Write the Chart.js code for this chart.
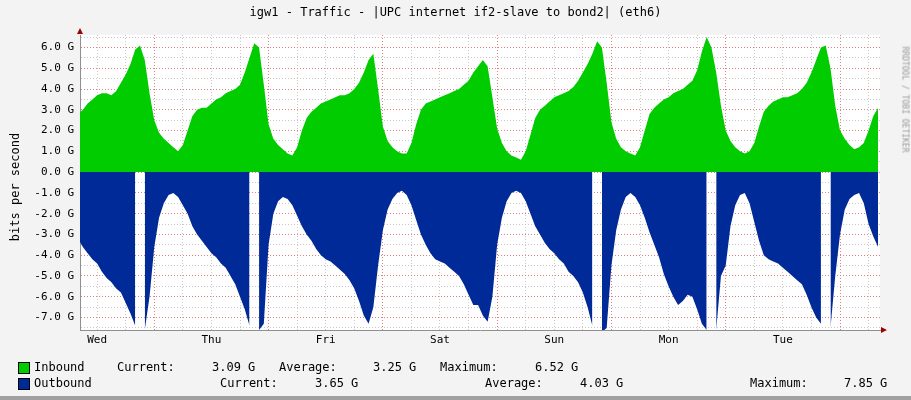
<!DOCTYPE html>
<html>
<head>
<meta charset="utf-8">
<script src="https://cdn.jsdelivr.net/npm/chart.js@4"></script>
<style>
  body { margin:0; background:#f3f3f3; font-family:"DejaVu Sans Mono", monospace; }
  #wrap { position:relative; width:911px; height:400px; overflow:hidden; }
  canvas { position:absolute; left:0; top:0; }
  .t { position:absolute; font-size:12px; color:#000; white-space:pre; }
  .box { position:absolute; width:10px; height:10px; border:1px solid #000; }
</style>
</head>
<body>
<div id="wrap">
  <canvas id="c" width="911" height="400"></canvas>
  <div class="t" style="left:0;width:911px;text-align:center;top:5px;">igw1 - Traffic - |UPC internet if2-slave to bond2| (eth6)</div>
  <div class="t" style="left:-40px;top:180px;width:110px;text-align:center;transform:rotate(-90deg);">bits per second</div>
  <div class="t" style="left:835px;top:95px;width:140px;text-align:center;font-size:8px;color:#999;transform:rotate(90deg);">RRDTOOL / TOBI OETIKER</div>

  <div class="box" style="left:18px;top:362px;background:#00cc00;"></div>
  <div class="t" style="left:34px;top:360px;">Inbound</div>
  <div class="t" style="left:117px;top:360px;">Current:</div>
  <div class="t" style="left:212px;top:360px;">3.09 G</div>
  <div class="t" style="left:279px;top:360px;">Average:</div>
  <div class="t" style="left:373px;top:360px;">3.25 G</div>
  <div class="t" style="left:440px;top:360px;">Maximum:</div>
  <div class="t" style="left:535px;top:360px;">6.52 G</div>

  <div class="box" style="left:18px;top:378px;background:#002a97;"></div>
  <div class="t" style="left:34px;top:376px;">Outbound</div>
  <div class="t" style="left:220px;top:376px;">Current:</div>
  <div class="t" style="left:315px;top:376px;">3.65 G</div>
  <div class="t" style="left:485px;top:376px;">Average:</div>
  <div class="t" style="left:580px;top:376px;">4.03 G</div>
  <div class="t" style="left:750px;top:376px;">Maximum:</div>
  <div class="t" style="left:844px;top:376px;">7.85 G</div>
  <div style="position:absolute;left:0;top:396px;width:911px;height:4px;background:#a0a0a0;"></div>
</div>
<script>
// hours since Wed 00:00; one sample per hour
const startHour = 8;
const dayNames = ['Wed', 'Thu', 'Fri', 'Sat', 'Sun', 'Mon', 'Tue'];

// inbound, Gbit/s
const inbound = [
  // Wed 08-23
  2.8,3.0,3.3,3.5,3.7,3.8,3.8,3.7,3.9,4.3,4.7,5.2,5.9,6.1,5.4,3.8,
  // Thu
  2.5,1.9,1.6,1.4,1.2,1.0,1.3,2.0,2.7,3.0,3.1,3.1,3.3,3.5,3.6,3.8,3.9,4.0,4.2,4.8,5.5,6.2,6.0,4.2,
  // Fri
  2.3,1.6,1.3,1.1,0.9,0.8,1.2,2.0,2.6,2.9,3.1,3.3,3.4,3.5,3.6,3.7,3.7,3.8,4.0,4.3,4.8,5.4,5.7,4.0,
  // Sat
  2.2,1.5,1.2,1.0,0.9,0.9,1.4,2.3,3.0,3.3,3.4,3.5,3.6,3.7,3.8,3.9,4.0,4.2,4.4,4.8,5.1,5.4,5.1,3.6,
  // Sun
  2.1,1.4,1.0,0.8,0.7,0.6,1.0,1.8,2.6,3.0,3.2,3.4,3.6,3.7,3.8,3.9,4.1,4.4,4.8,5.2,5.7,6.3,6.0,4.3,
  // Mon
  2.4,1.6,1.2,1.0,0.9,0.8,1.2,2.0,2.8,3.1,3.3,3.5,3.6,3.8,3.9,4.0,4.2,4.4,4.9,5.8,6.5,6.0,4.8,3.2,
  // Tue
  2.0,1.5,1.2,1.0,0.9,1.0,1.4,2.2,2.9,3.2,3.4,3.5,3.6,3.6,3.7,3.8,4.0,4.3,4.8,5.4,6.0,6.1,5.0,3.2,
  // Wed 00-08
  2.0,1.6,1.3,1.1,1.2,1.4,2.0,2.7,3.1
];

// outbound magnitude, Gbit/s (drawn below zero); null = no data
const outbound = [
  // Wed 08-23
  3.2,3.6,3.9,4.2,4.4,4.8,5.1,5.3,5.6,5.8,6.3,6.8,7.4,null,7.6,6.0,
  // Thu
  3.6,2.2,1.5,1.1,1.0,1.2,1.6,2.0,2.6,3.0,3.3,3.6,3.9,4.1,4.4,4.6,5.0,5.4,6.0,6.6,7.4,null,7.6,7.3,
  // Fri
  3.5,2.0,1.4,1.2,1.3,1.6,2.1,2.6,3.0,3.3,3.7,4.0,4.2,4.3,4.5,4.7,4.9,5.2,5.6,6.2,6.9,7.3,6.5,4.5,
  // Sat
  2.8,1.8,1.3,1.0,0.9,1.1,1.6,2.3,3.0,3.5,3.9,4.2,4.3,4.4,4.6,4.8,5.0,5.4,5.9,6.4,6.4,6.9,7.2,6.0,
  // Sun
  3.5,2.2,1.4,1.0,0.9,1.0,1.4,2.0,2.6,3.0,3.4,3.7,3.9,4.2,4.4,4.8,5.0,5.3,5.8,6.5,7.4,null,7.7,7.5,
  // Mon
  4.5,2.8,1.8,1.2,1.0,1.2,1.6,2.2,2.9,3.5,4.1,4.9,5.5,6.0,6.4,6.2,5.9,6.0,6.6,7.3,7.6,null,7.6,5.0,
  // Tue
  4.5,2.6,1.6,1.1,1.0,1.5,2.4,3.3,4.0,4.2,4.3,4.4,4.6,4.8,5.0,5.2,5.4,5.9,6.5,7.0,7.3,null,7.5,5.0,
  // Wed 00-08
  3.0,1.8,1.3,1.1,1.0,1.5,2.5,3.1,3.6
];

const xTicks = [];
for (let h = 12; h <= 174; h += 6) xTicks.push(h);
const yTicks = [];
for (let v = -7.5; v <= 6.5; v += 0.5) yTicks.push(v);

const inPts = inbound.map((v, i) => ({ x: startHour + i, y: v }));
const outPts = outbound.map((v, i) => ({ x: startHour + i, y: v === null ? null : -v }));

const arrows = {
  id: 'arrows',
  afterDraw(chart) {
    const { ctx, chartArea: a } = chart;
    ctx.save();
    ctx.fillStyle = '#a00000';
    ctx.beginPath();
    ctx.moveTo(a.left - 3, a.top - 1); ctx.lineTo(a.left + 3, a.top - 1); ctx.lineTo(a.left, a.top - 7);
    ctx.fill();
    ctx.beginPath();
    ctx.moveTo(a.right + 1, a.bottom - 3); ctx.lineTo(a.right + 1, a.bottom + 3); ctx.lineTo(a.right + 7, a.bottom);
    ctx.fill();
    ctx.restore();
  },
  beforeDraw(chart) {
    const { ctx, chartArea: a } = chart;
    ctx.save();
    ctx.fillStyle = '#ffffff';
    ctx.fillRect(a.left, a.top, a.right - a.left, a.bottom - a.top);
    ctx.restore();
  }
};

new Chart(document.getElementById('c'), {
  type: 'line',
  data: {
    datasets: [
      { data: inPts, fill: 'origin', backgroundColor: '#00cc00', borderWidth: 0, pointRadius: 0, spanGaps: false },
      { data: outPts, fill: 'origin', backgroundColor: '#002a97', borderWidth: 0, pointRadius: 0, spanGaps: false }
    ]
  },
  plugins: [arrows],
  options: {
    responsive: false,
    animation: false,
    layout: { padding: { left: 0, top: 35, right: 31, bottom: 50 } },
    plugins: { legend: { display: false }, tooltip: { enabled: false } },
    scales: {
      x: {
        type: 'linear', min: 8.4, max: 176.4,
        afterBuildTicks: s => { s.ticks = xTicks.map(v => ({ value: v })); },
        afterFit: s => { s.height = 20; },
        grid: { color: c => (c.tick && c.tick.value % 24 === 0) ? '#e08080' : '#c8c8c8', lineWidth: 1, drawTicks: false },
        border: { color: '#909090', dash: [1, 2] },
        ticks: {
          autoSkip: false, maxRotation: 0, padding: 4, color: '#000',
          font: { family: 'DejaVu Sans Mono', size: 11 },
          callback: v => (v % 24 === 12) ? dayNames[Math.floor(v / 24)] : ''
        }
      },
      y: {
        min: -7.6, max: 6.6,
        afterBuildTicks: s => { s.ticks = yTicks.map(v => ({ value: v })); },
        afterFit: s => { s.width = 80; },
        grid: { color: c => (c.tick && Number.isInteger(c.tick.value)) ? '#e08080' : '#c8c8c8', lineWidth: 1, drawTicks: false },
        border: { color: '#909090', dash: [1, 2] },
        ticks: {
          autoSkip: false, padding: 6, color: '#000',
          font: { family: 'DejaVu Sans Mono', size: 11 },
          callback: v => Number.isInteger(v) ? v.toFixed(1) + ' G' : ''
        }
      }
    }
  }
});
</script>
</body>
</html>
